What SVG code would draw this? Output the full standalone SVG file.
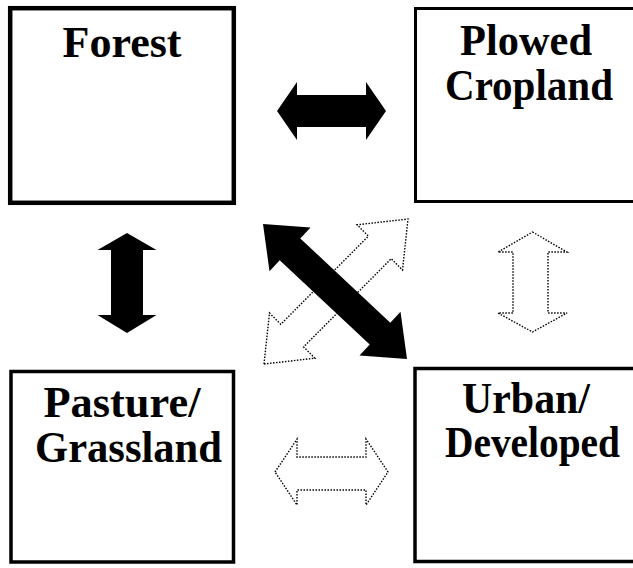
<svg xmlns="http://www.w3.org/2000/svg" width="633" height="568" viewBox="0 0 633 568">
<style>
.box{fill:#fff;stroke:#000;}
.lbl{font-family:"Liberation Serif","Times New Roman",serif;font-weight:bold;font-size:45px;fill:#000;text-anchor:middle;}
.solid{fill:#000;stroke:none;}
.dot{fill:#fff;stroke:#000;stroke-width:1.4;stroke-dasharray:1.5 1.5;}
</style>
<rect width="633" height="568" fill="#fff"/>
<g id="forest">
<rect class="box" x="10.2" y="8.2" width="223.6" height="194.6" stroke-width="4.5"/>
<text class="lbl" x="122" y="57" textLength="119" lengthAdjust="spacingAndGlyphs">Forest</text>
</g>
<g id="cropland">
<rect class="box" x="415.5" y="8.5" width="240" height="193" stroke-width="3"/>
<text class="lbl" x="526" y="55" textLength="132" lengthAdjust="spacingAndGlyphs">Plowed</text>
<text class="lbl" x="529" y="100" textLength="168" lengthAdjust="spacingAndGlyphs">Cropland</text>
</g>
<g id="pasture">
<rect class="box" x="11" y="371.5" width="222.5" height="190.5" stroke-width="3.5"/>
<text class="lbl" x="122" y="417" textLength="157" lengthAdjust="spacingAndGlyphs">Pasture/</text>
<text class="lbl" x="128.5" y="462" textLength="187" lengthAdjust="spacingAndGlyphs">Grassland</text>
</g>
<g id="urban">
<rect class="box" x="415" y="368.5" width="240" height="193" stroke-width="3.5"/>
<text class="lbl" x="526" y="413" textLength="128" lengthAdjust="spacingAndGlyphs">Urban/</text>
<text class="lbl" x="532.5" y="457" textLength="175" lengthAdjust="spacingAndGlyphs">Developed</text>
</g>
<g id="connectors">
<polygon class="dot" points="264,364 269.5,313 280.8,324.3 368.4,236.1 357.1,224.8 408,219 402.5,270 391.2,258.7 303.6,346.9 314.9,358.2"/>
<polygon class="solid" points="263,224 310.5,227.4 300.3,238.4 390.3,322.8 400.5,311.8 407,359 359.5,355.6 369.7,344.6 279.7,260.2 269.5,271.2"/>
<polygon class="solid" points="277,111 297,82 297,95 366,95 366,82 386,111 366,140 366,127 297,127 297,140"/>
<polygon class="solid" points="127,233 156.5,250 143,250 143,315 156.5,315 127,333 97.5,315 111,315 111,250 97.5,250"/>
<polygon class="dot" points="532.5,232 567,252 548,252 548,313 567,313 532.5,332 498,313 513,313 513,252 498,252"/>
<polygon class="dot" points="275,472 297,439 297,457 366,457 366,439 388,472 366,505 366,490 297,490 297,505"/>
</g>
</svg>
